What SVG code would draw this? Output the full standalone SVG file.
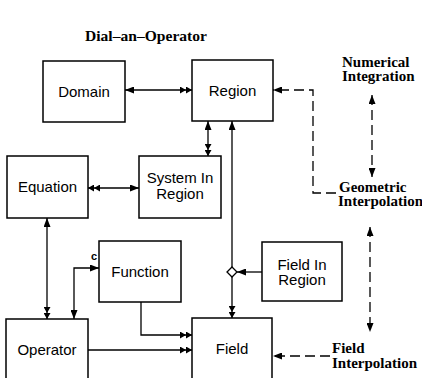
<svg xmlns="http://www.w3.org/2000/svg" width="422" height="378" viewBox="0 0 422 378">
<defs>
<style>
.box{fill:#fff;stroke:#000;stroke-width:1.5}
.lbl{font-family:"Liberation Sans",Arial,sans-serif;font-size:15px;fill:#000;text-anchor:middle}
.ser{font-family:"Liberation Serif","Times New Roman",serif;font-size:15px;font-weight:bold;fill:#000}
.con{fill:none;stroke:#000;stroke-width:1.3}
.dash{fill:none;stroke:#000;stroke-width:1.3;stroke-dasharray:10,5}
</style>
<marker id="a1" viewBox="0 0 9 7" refX="9" refY="3.5" markerWidth="9" markerHeight="7" markerUnits="userSpaceOnUse" orient="auto-start-reverse">
<path d="M0,0 L9,3.5 L0,7 z" fill="#000"/>
</marker>
<marker id="a2" viewBox="0 0 12 7" refX="12" refY="3.5" markerWidth="12" markerHeight="7" markerUnits="userSpaceOnUse" orient="auto-start-reverse">
<path d="M0,0 L6,3.5 L0,7 z M6,0 L12,3.5 L6,7 z" fill="#000"/>
</marker>
</defs>
<rect width="422" height="378" fill="#fff"/>

<text class="ser" x="85" y="41" textLength="122" lengthAdjust="spacingAndGlyphs">Dial–an–Operator</text>

<g id="connectors">
<line class="con" x1="125" y1="90" x2="192" y2="90" marker-start="url(#a1)" marker-end="url(#a2)"/>
<line class="con" x1="208" y1="121" x2="208" y2="156" marker-start="url(#a1)" marker-end="url(#a2)"/>
<line class="con" x1="88" y1="188" x2="139" y2="188" marker-start="url(#a2)" marker-end="url(#a1)"/>
<line class="con" x1="232" y1="121" x2="232" y2="267" marker-start="url(#a1)"/>
<line class="con" x1="232" y1="277" x2="232" y2="318" marker-end="url(#a2)"/>
<path d="M232,267 L237,272 L232,277 L227,272 Z" fill="#fff" stroke="#000" stroke-width="1.3"/>
<line class="con" x1="262" y1="272" x2="237" y2="272" marker-end="url(#a1)"/>
<line class="con" x1="47" y1="218" x2="47" y2="319" marker-start="url(#a1)" marker-end="url(#a2)"/>
<path class="con" d="M99,268 L74,268 L74,319" marker-start="url(#a1)" marker-end="url(#a1)"/>
<path class="con" d="M141,302 L141,335 L192,335" marker-end="url(#a2)"/>
<line class="con" x1="88" y1="350" x2="192" y2="350" marker-end="url(#a2)"/>
<path class="dash" d="M336,193 L313,193 L313,90 L273,90" marker-end="url(#a1)"/>
<line class="dash" x1="372" y1="95" x2="372" y2="177" marker-start="url(#a1)" marker-end="url(#a1)"/>
<line class="dash" x1="370" y1="227" x2="370" y2="332" marker-start="url(#a1)" marker-end="url(#a1)"/>
<line class="dash" x1="330" y1="356" x2="273" y2="356" marker-end="url(#a1)"/>
</g>

<g id="domain"><rect class="box" x="43" y="61" width="82" height="61"/><text class="lbl" x="84" y="97">Domain</text></g>
<g id="region"><rect class="box" x="192" y="60" width="81" height="61"/><text class="lbl" x="232.5" y="96">Region</text></g>
<g id="equation"><rect class="box" x="7" y="156" width="81" height="62"/><text class="lbl" x="47.5" y="192">Equation</text></g>
<g id="system-in-region"><rect class="box" x="139" y="156" width="82" height="62"/><text class="lbl" x="180" y="183">System In</text><text class="lbl" x="180" y="199">Region</text></g>
<g id="function"><rect class="box" x="99" y="241" width="82" height="61"/><text class="lbl" x="140" y="277">Function</text><text x="91" y="260" style="font-family:'Liberation Sans',Arial,sans-serif;font-size:11px;font-weight:bold">c</text></g>
<g id="field-in-region"><rect class="box" x="262" y="242" width="80" height="59"/><text class="lbl" x="302" y="270">Field In</text><text class="lbl" x="302" y="285">Region</text></g>
<g id="operator"><rect class="box" x="6" y="319" width="82" height="70"/><text class="lbl" x="47" y="355">Operator</text></g>
<g id="field"><rect class="box" x="192" y="318" width="80" height="71"/><text class="lbl" x="232" y="354">Field</text></g>

<g id="numerical-integration"><text class="ser" x="342" y="67">Numerical</text><text class="ser" x="342" y="81">Integration</text></g>
<g id="geometric-interpolation"><text class="ser" x="339" y="192">Geometric</text><text class="ser" x="338" y="206">Interpolation</text></g>
<g id="field-interpolation"><text class="ser" x="332" y="353">Field</text><text class="ser" x="332" y="368">Interpolation</text></g>
</svg>
